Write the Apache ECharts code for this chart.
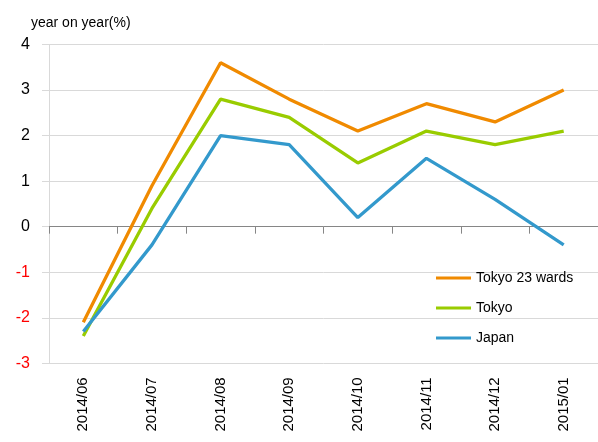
<!DOCTYPE html>
<html>
<head>
<meta charset="utf-8">
<script src="https://cdn.jsdelivr.net/npm/echarts@6/dist/echarts.min.js"></script>
<style>
html,body{margin:0;padding:0;background:#fff;}
#main{width:598px;height:442px;}
</style>
</head>
<body>
<div id="main"></div>
<script>
var categories = ['2014/06','2014/07','2014/08','2014/09','2014/10','2014/11','2014/12','2015/01'];
var tokyo23 = [-2.1, 0.9, 3.6, 2.8, 2.1, 2.7, 2.3, 3.0];
var tokyo = [-2.4, 0.4, 2.8, 2.4, 1.4, 2.1, 1.8, 2.1];
var japan = [-2.3, -0.4, 2.0, 1.8, 0.2, 1.5, 0.6, -0.4];
var seriesNames = ['Tokyo 23 wards', 'Tokyo', 'Japan'];
var yTitle = 'year on year(%)';

var FONT = 'Liberation Sans';
var chart = echarts.init(document.getElementById('main'), null, {renderer: 'canvas'});
var option = {
  animation: false,
  backgroundColor: '#ffffff',
  title: {
    text: yTitle,
    left: 26, top: 11,
    textStyle: {fontFamily: FONT, fontSize: 14, fontWeight: 'normal', color: '#000'}
  },
  grid: {left: 49, right: -5, top: 44.5, bottom: 78.7, containLabel: false},
  legend: {
    orient: 'vertical',
    left: 431, top: 266,
    itemWidth: 35, itemHeight: 3,
    itemGap: 16,
    icon: 'rect',
    textStyle: {fontFamily: FONT, fontSize: 14, color: '#000'},
    data: seriesNames
  },
  xAxis: [{
    type: 'category',
    data: categories,
    position: 'bottom',
    boundaryGap: true,
    axisLine: {show: false, onZero: false},
    axisTick: {show: false},
    splitLine: {show: false},
    axisLabel: {rotate: 90, margin: 14, fontFamily: FONT, fontSize: 15, color: '#000'}
  }, {
    type: 'category',
    data: categories,
    position: 'bottom',
    boundaryGap: true,
    axisLine: {show: true, onZero: true, lineStyle: {color: '#868686', width: 1}},
    axisTick: {show: true, length: 7, lineStyle: {color: '#868686'}},
    axisLabel: {show: false},
    splitLine: {show: false}
  }],
  yAxis: {
    type: 'value',
    min: -3, max: 4, interval: 1,
    axisLine: {show: true, lineStyle: {color: '#d9d9d9'}},
    axisTick: {show: true, length: 7, lineStyle: {color: '#d9d9d9'}},
    splitLine: {show: true, lineStyle: {color: '#d9d9d9', width: 1}},
    axisLabel: {
      margin: 19,
      fontFamily: FONT, fontSize: 16,
      color: function (v) { return Number(v) < 0 ? '#ff0000' : '#000000'; }
    }
  },
  series: [{
    name: seriesNames[0], type: 'line', data: tokyo23, xAxisIndex: 0,
    symbol: 'none', lineStyle: {width: 3.3, color: '#f08a00'}, itemStyle: {color: '#f08a00'}
  }, {
    name: seriesNames[1], type: 'line', data: tokyo, xAxisIndex: 0,
    symbol: 'none', lineStyle: {width: 3.3, color: '#99cc00'}, itemStyle: {color: '#99cc00'}
  }, {
    name: seriesNames[2], type: 'line', data: japan, xAxisIndex: 0,
    symbol: 'none', lineStyle: {width: 3.3, color: '#3399cc'}, itemStyle: {color: '#3399cc'}
  }]
};
chart.setOption(option);
</script>
</body>
</html>
